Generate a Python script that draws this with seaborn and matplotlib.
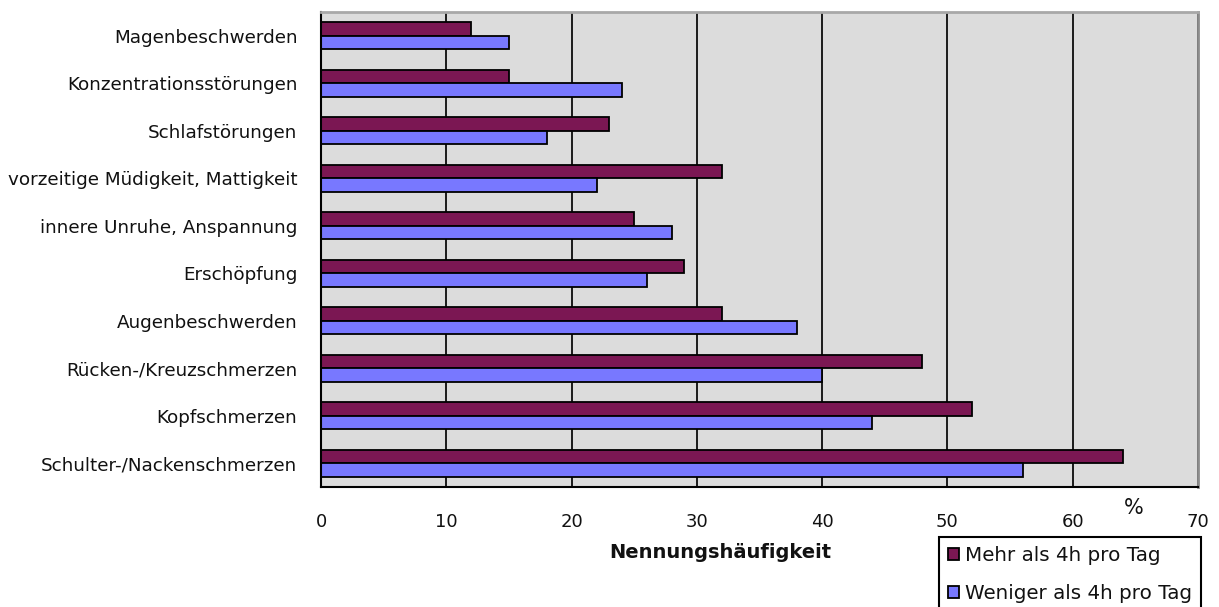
import matplotlib
matplotlib.use("Agg")
import matplotlib.pyplot as plt
import numpy as np
import pandas as pd
import seaborn as sns

# Beschwerden, von oben nach unten
symptoms = [
    "Magenbeschwerden",
    "Konzentrationsstörungen",
    "Schlafstörungen",
    "vorzeitige Müdigkeit, Mattigkeit",
    "innere Unruhe, Anspannung",
    "Erschöpfung",
    "Augenbeschwerden",
    "Rücken-/Kreuzschmerzen",
    "Kopfschmerzen",
    "Schulter-/Nackenschmerzen",
]
mehr_als_4h = [12, 15, 23, 32, 25, 29, 32, 48, 52, 64]
weniger_als_4h = [15, 24, 18, 22, 28, 26, 38, 40, 44, 56]
groups = ["Mehr als 4h pro Tag", "Weniger als 4h pro Tag"]
x_ticks = [0, 10, 20, 30, 40, 50, 60, 70]

df = pd.DataFrame({
    "Symptom": symptoms * 2,
    "Nennungen": mehr_als_4h + weniger_als_4h,
    "Gruppe": [groups[0]] * len(symptoms) + [groups[1]] * len(symptoms),
})

sns.set_theme(style="white")
plt.rcParams["font.family"] = ["DejaVu Sans"]

W, H = 1219, 607
fig = plt.figure(figsize=(W / 100, H / 100), dpi=100)
ax = fig.add_axes([321 / W, 1 - 487 / H, (1198 - 321) / W, (487 - 12) / H])
ax.set_facecolor("#dcdcdc")

sns.barplot(
    data=df, y="Symptom", x="Nennungen", hue="Gruppe",
    order=symptoms, hue_order=groups,
    palette=["#7b1753", "#7878ff"], saturation=1,
    width=0.56, gap=0, errorbar=None, orient="h",
    edgecolor="black", linewidth=1.3, ax=ax,
)

handles, labels = ax.get_legend_handles_labels()
ax.get_legend().remove()

# x-Achse
ax.set_xlim(0, 70)
ax.set_xticks(x_ticks)
ax.set_xticklabels([str(t) for t in x_ticks], fontsize=13)
ax.tick_params(axis="x", direction="inout", length=10, width=1.3,
               color="black", pad=14, labelcolor="#111111")
ax.grid(axis="x", color="#1a1a1a", linewidth=1.4)
ax.grid(axis="y", visible=False)
ax.set_axisbelow(True)

# y-Achse: Striche zwischen den Kategorien, Beschriftung in der Mitte
ax.set_yticks(np.arange(-0.5, len(symptoms), 1))
ax.set_yticklabels([])
ax.set_yticks(np.arange(len(symptoms)), labels=symptoms, minor=True)
ax.tick_params(axis="y", which="major", direction="inout", length=9,
               width=1.3, color="black")
ax.tick_params(axis="y", which="minor", length=0, pad=17,
               labelsize=13.2, labelcolor="#111111")
ax.set_ylim(len(symptoms) - 0.5, -0.5)

ax.set_xlabel("")
ax.set_ylabel("")

for side in ("left", "bottom"):
    ax.spines[side].set_color("black")
    ax.spines[side].set_linewidth(1.5)
ax.spines["top"].set_color("#a8a8a8")
ax.spines["top"].set_linewidth(2)
ax.spines["right"].set_color("#8c8c8c")
ax.spines["right"].set_linewidth(2)

fig.text(720 / W, 1 - 553 / H, "Nennungshäufigkeit", fontsize=14,
         fontweight="bold", ha="center", va="center", color="#111111")
fig.text(1134 / W, 1 - 508 / H, "%", fontsize=15, ha="center",
         va="center", color="#111111")

leg = fig.legend(
    handles, labels, loc="upper left",
    bbox_to_anchor=(939 / W, 1 - 537 / H), bbox_transform=fig.transFigure,
    fontsize=14.3, frameon=True, fancybox=False, framealpha=1,
    edgecolor="black", borderaxespad=0, borderpad=0.45,
    handlelength=0.55, handleheight=0.55, handletextpad=0.3,
    labelspacing=0.95,
)
leg.get_frame().set_linewidth(1.5)
for t in leg.get_texts():
    t.set_color("#111111")

fig.savefig("out.png", dpi=100, facecolor="white")
